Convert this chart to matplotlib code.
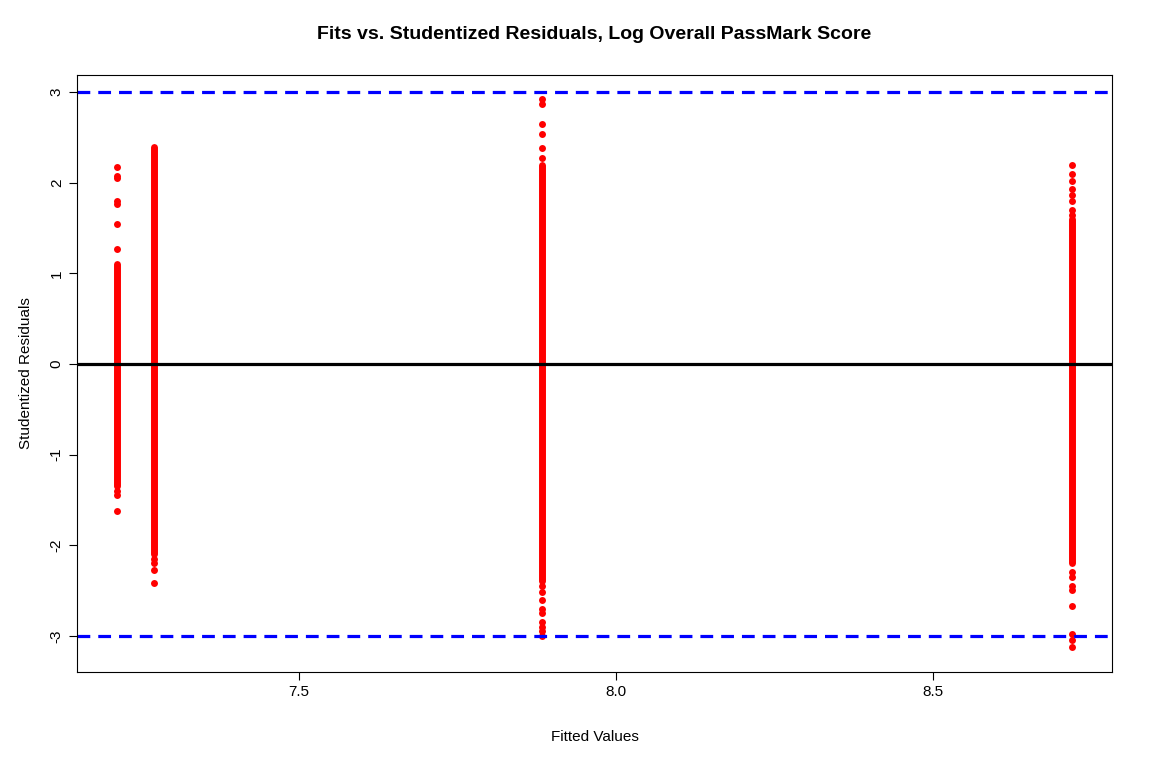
import matplotlib.pyplot as plt

plt.rcParams['font.family'] = ['Liberation Sans', 'DejaVu Sans']

# fitted value of each column
fits = [7.213, 7.271, 7.883, 8.719]
# dense runs of residuals (low, high) per column
dense = [(-1.35, 1.10), (-2.10, 2.40), (-2.40, 2.20), (-2.20, 1.60)]
# isolated residuals per column
sparse = [
    [2.17, 2.08, 2.05, 1.80, 1.77, 1.55, 1.27, -1.40, -1.45, -1.62],
    [-2.15, -2.20, -2.27, -2.42],
    [2.27, 2.38, 2.54, 2.65, 2.87, 2.92, -2.45, -2.52, -2.60, -2.70,
     -2.75, -2.85, -2.90, -2.95, -3.00],
    [1.65, 1.70, 1.80, 1.87, 1.93, 2.02, 2.10, 2.20, -2.30, -2.35,
     -2.45, -2.50, -2.67, -2.98, -3.05, -3.12],
]

fig = plt.figure(figsize=(11.52, 7.68), dpi=100)
ax = fig.add_axes([0.0668, 0.125, 0.8985, 0.7773])

for x, (lo, hi), pts in zip(fits, dense, sparse):
    lc = ax.vlines(x, lo, hi, color='red', linewidth=5)
    lc.set_capstyle('round')
    ax.plot([x] * len(pts), pts, 'o', color='red', markersize=5, markeredgewidth=0)

ax.axhline(0, color='black', linewidth=2.3)
ax.axhline(3, color='blue', linewidth=2.3, linestyle=(0, (4, 2.5)))
ax.axhline(-3, color='blue', linewidth=2.3, linestyle=(0, (4, 2.5)))

ax.set_xlim(7.150, 8.782)
ax.set_ylim(-3.40, 3.19)
ax.set_xticks([7.5, 8.0, 8.5])
ax.set_xticklabels(['7.5', '8.0', '8.5'])
ax.set_yticks([-3, -2, -1, 0, 1, 2, 3])
ax.set_yticklabels(['-3', '-2', '-1', '0', '1', '2', '3'], rotation=90, va='center')
ax.tick_params(labelsize=11, length=6)
ax.set_xlabel('Fitted Values', fontsize=11, labelpad=22)
ax.set_ylabel('Studentized Residuals', fontsize=11, labelpad=12)
ax.set_title('Fits vs. Studentized Residuals, Log Overall PassMark Score',
             fontsize=14, fontweight='bold', pad=26)

fig.savefig('out.png', dpi=100)
